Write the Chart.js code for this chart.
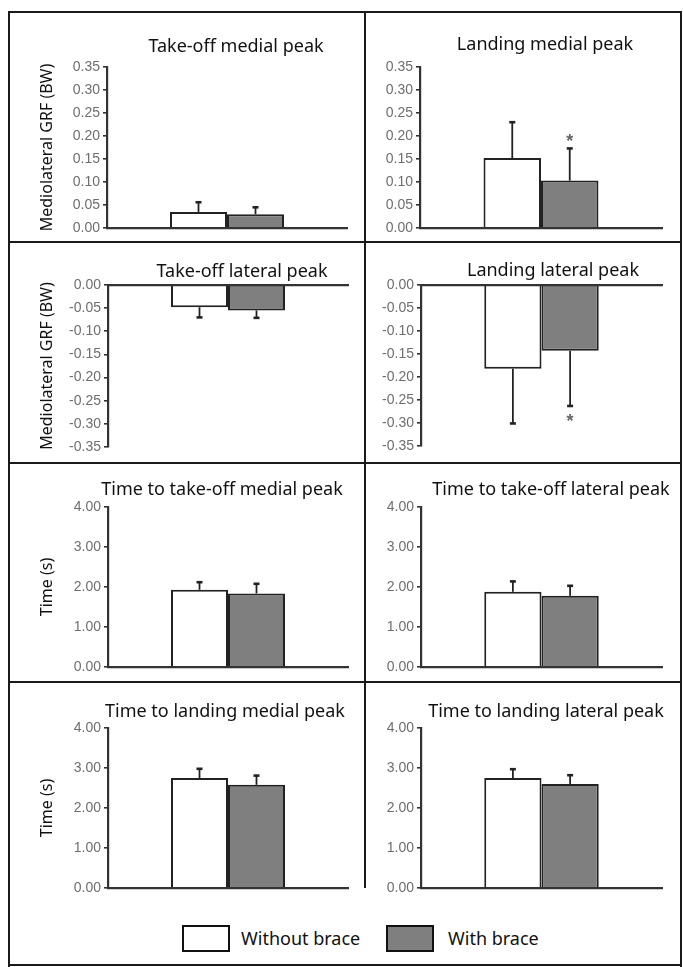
<!DOCTYPE html>
<html><head><meta charset="utf-8">
<script src="https://cdn.jsdelivr.net/npm/chart.js@4.4.1/dist/chart.umd.min.js"></script>
<style>
html,body{margin:0;padding:0;background:#fff;}
body{width:683px;height:967px;position:relative;overflow:hidden;font-family:'Noto Sans',sans-serif;}
canvas{position:absolute;}
.ln{position:absolute;background:#1a1a1a;z-index:5;}
.ttl{position:absolute;transform:translate(-50%,-50%);white-space:nowrap;font-size:18px;color:#111;line-height:1;}
.lg{position:absolute;box-sizing:border-box;border:2.5px solid #111;height:27px;}
.lt{position:absolute;font-size:18px;color:#111;line-height:1;transform:translateY(-50%);white-space:nowrap;}
</style></head><body>
<script>
// ---------- DATA ----------
const categories = [''];
const seriesLabels = ['Without brace', 'With brace'];
const panelTitles = ['Take-off medial peak', 'Landing medial peak', 'Take-off lateral peak', 'Landing lateral peak',
  'Time to take-off medial peak', 'Time to take-off lateral peak', 'Time to landing medial peak', 'Time to landing lateral peak'];
const yAxisTitles = ['Mediolateral GRF (BW)', '', 'Mediolateral GRF (BW)', '', 'Time (s)', '', 'Time (s)', ''];
// [Without brace, With brace]
const takeoffMedialMean = [0.035, 0.030];
const takeoffMedialSD = [0.021, 0.015];
const landingMedialMean = [0.152, 0.103];
const landingMedialSD = [0.078, 0.070];
const takeoffLateralMean = [-0.048, -0.055];
const takeoffLateralSD = [0.022, 0.016];
const landingLateralMean = [-0.182, -0.143];
const landingLateralSD = [0.119, 0.120];
const timeTakeoffMedialMean = [1.93, 1.84];
const timeTakeoffMedialSD = [0.19, 0.24];
const timeTakeoffLateralMean = [1.88, 1.78];
const timeTakeoffLateralSD = [0.26, 0.25];
const timeLandingMedialMean = [2.75, 2.58];
const timeLandingMedialSD = [0.23, 0.23];
const timeLandingLateralMean = [2.75, 2.60];
const timeLandingLateralSD = [0.22, 0.22];
const landingMedialSignificant = [false, true];
const landingLateralSignificant = [false, true];
const noSignificance = [false, false];
const medialTicks = [0, 0.05, 0.10, 0.15, 0.20, 0.25, 0.30, 0.35];
const lateralTicks = [-0.35, -0.30, -0.25, -0.20, -0.15, -0.10, -0.05, 0];
const timeTicks = [0, 1, 2, 3, 4];

// ---------- LAYOUT (positions only) ----------
// canvas box [x, y, w, h] and chart area [L, R, T, B], title centre [x, y]
const layoutBoxes = [
  {c:[11,14,352,227], a:[107,347,67,228], t:[236,45]},
  {c:[366,14,315,227], a:[420,662,67,228], t:[545,43]},
  {c:[11,244,352,218], a:[108,348,285,447], t:[242,270]},
  {c:[366,244,315,218], a:[421,662,285,446], t:[553,269]},
  {c:[11,465,352,216], a:[108,348,507,667], t:[222,488]},
  {c:[366,465,315,216], a:[421,662,507,667], t:[551,488]},
  {c:[11,684,352,216], a:[108,348,728,888], t:[225,710]},
  {c:[366,684,315,216], a:[421,662,728,888], t:[546,710]}
];

const panels = [
  {mean: takeoffMedialMean, sd: takeoffMedialSD, sig: noSignificance, ticks: medialTicks},
  {mean: landingMedialMean, sd: landingMedialSD, sig: landingMedialSignificant, ticks: medialTicks},
  {mean: takeoffLateralMean, sd: takeoffLateralSD, sig: noSignificance, ticks: lateralTicks},
  {mean: landingLateralMean, sd: landingLateralSD, sig: landingLateralSignificant, ticks: lateralTicks},
  {mean: timeTakeoffMedialMean, sd: timeTakeoffMedialSD, sig: noSignificance, ticks: timeTicks},
  {mean: timeTakeoffLateralMean, sd: timeTakeoffLateralSD, sig: noSignificance, ticks: timeTicks},
  {mean: timeLandingMedialMean, sd: timeLandingMedialSD, sig: noSignificance, ticks: timeTicks},
  {mean: timeLandingLateralMean, sd: timeLandingLateralSD, sig: noSignificance, ticks: timeTicks}
];

const errorBarPlugin = {
  id: 'errorBars',
  afterDatasetsDraw(chart) {
    const ctx = chart.ctx, y = chart.scales.y;
    chart.data.datasets.forEach((ds, i) => {
      const meta = chart.getDatasetMeta(i);
      meta.data.forEach((bar, j) => {
        const v = ds.data[j], e = ds.errors[j];
        const dir = v < 0 ? -1 : 1;
        const y0 = y.getPixelForValue(v), y1 = y.getPixelForValue(v + dir * e);
        ctx.save();
        ctx.strokeStyle = '#222';
        ctx.lineWidth = 1.8;
        ctx.beginPath(); ctx.moveTo(bar.x, y0); ctx.lineTo(bar.x, y1); ctx.stroke();
        ctx.lineWidth = 2.6;
        ctx.beginPath(); ctx.moveTo(bar.x - 3, y1); ctx.lineTo(bar.x + 3, y1); ctx.stroke();
        if (ds.sig[j]) {
          ctx.fillStyle = '#666';
          ctx.font = 'bold 18px "Liberation Sans"';
          ctx.textAlign = 'center';
          ctx.textBaseline = 'alphabetic';
          ctx.fillText('*', bar.x, dir > 0 ? y1 - 1 : y1 + 21);
        }
        ctx.restore();
      });
    });
  }
};

function fmt(v) { return Math.abs(v) < 1e-9 ? '0.00' : v.toFixed(2); }

panels.forEach((p, k) => {
  const lb = layoutBoxes[k];
  const [cx, cy, cw, ch] = lb.c;
  const [L, R, T, B] = lb.a;
  const cv = document.createElement('canvas');
  cv.width = cw; cv.height = ch;
  cv.style.left = cx + 'px'; cv.style.top = cy + 'px';
  document.body.appendChild(cv);
  const negative = p.ticks[0] < 0;
  const yTitle = yAxisTitles[k];
  new Chart(cv, {
    type: 'bar',
    data: {
      labels: categories,
      datasets: [
        {label: seriesLabels[0], data: p.mean.slice(0,1), errors: p.sd.slice(0,1), sig: p.sig.slice(0,1),
          backgroundColor: '#ffffff', borderColor: '#222', borderWidth: 2, borderSkipped: 'start'},
        {label: seriesLabels[1], data: p.mean.slice(1,2), errors: p.sd.slice(1,2), sig: p.sig.slice(1,2),
          backgroundColor: '#7f7f7f', borderColor: '#222', borderWidth: 2, borderSkipped: 'start'}
      ]
    },
    options: {
      responsive: false, animation: false,
      layout: {padding: {left: 0, top: T - cy, bottom: cy + ch - B, right: cx + cw - R}},
      datasets: {bar: {categoryPercentage: 0.475, barPercentage: 1}},
      plugins: {legend: {display: false}, tooltip: {enabled: false}, title: {display: false}},
      scales: {
        x: {
          position: negative ? 'top' : 'bottom',
          grid: {display: false, drawTicks: false},
          ticks: {display: false},
          border: {display: true, color: '#333', width: 2.2, z: 2},
          afterFit(s) { s.height = 0; }
        },
        y: {
          min: p.ticks[0], max: p.ticks[p.ticks.length - 1],
          afterBuildTicks(s) { s.ticks = p.ticks.map(v => ({value: v})); },
          grid: {display: true, drawOnChartArea: false, drawTicks: true, tickLength: 4,
            tickColor: '#333', tickWidth: 1.6, lineWidth: 1.6, color: '#333'},
          border: {display: true, color: '#333', width: 2.2, z: 2},
          ticks: {padding: 3, color: '#6e6e6e', font: {family: '"Liberation Sans", Arial', size: 14},
            callback: v => fmt(v)},
          title: {display: !!yTitle, text: yTitle, color: '#111', padding: {top: 26.4, bottom: 0},
            font: {family: '"Noto Sans"', size: 16}},
          afterFit(s) { s.width = L - cx; }
        }
      }
    },
    plugins: [errorBarPlugin]
  });
  const t = document.createElement('div');
  t.className = 'ttl';
  t.textContent = panelTitles[k];
  t.style.left = lb.t[0] + 'px'; t.style.top = lb.t[1] + 'px';
  document.body.appendChild(t);
});

// frame lines
[[9,11,673,2],[8,11,2,956],[680,11,2,956],[8,964,674,2],[8,241,674,2],[8,462,674,2],[8,681,674,2],[364,11,2,877]]
  .forEach(([x,y,w,h]) => {
    const d = document.createElement('div'); d.className = 'ln';
    d.style.left = x+'px'; d.style.top = y+'px'; d.style.width = w+'px'; d.style.height = h+'px';
    document.body.appendChild(d);
  });

// legend
const legendBoxes = [{x:182, bg:'#ffffff', tx:241}, {x:386, bg:'#7f7f7f', tx:448}];
legendBoxes.forEach((lg, i) => {
  const b = document.createElement('div'); b.className = 'lg';
  b.style.left = lg.x + 'px'; b.style.top = '925px'; b.style.width = '48px'; b.style.background = lg.bg;
  document.body.appendChild(b);
  const t = document.createElement('div'); t.className = 'lt';
  t.textContent = seriesLabels[i];
  t.style.left = lg.tx + 'px'; t.style.top = '938px';
  document.body.appendChild(t);
});
</script>
</body></html>
